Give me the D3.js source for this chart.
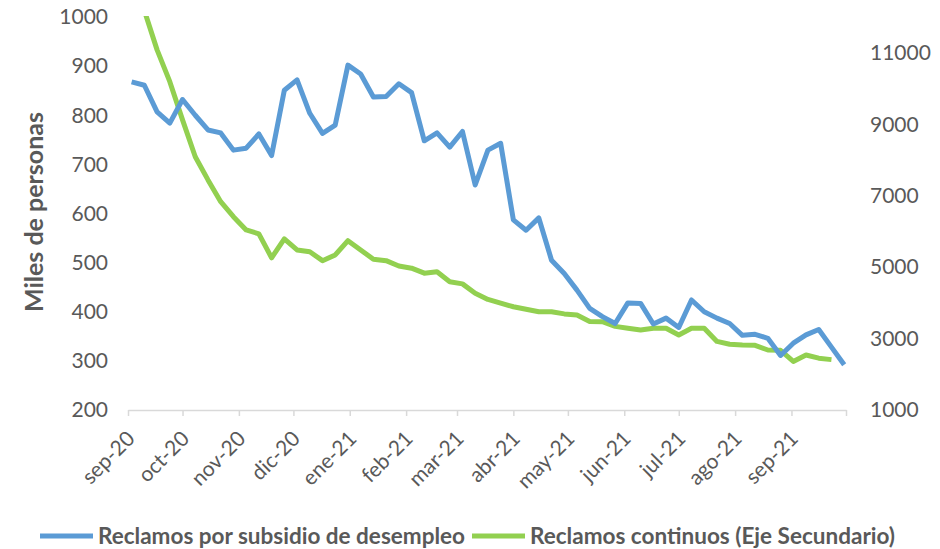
<!DOCTYPE html>
<html>
<head>
<meta charset="utf-8">
<script src="https://cdn.jsdelivr.net/npm/d3@7"></script>
<style>
  html, body { margin: 0; padding: 0; background: #fff; }
  svg { display: block; font-family: Lato, "Open Sans", sans-serif; }
</style>
</head>
<body>
<div id="app"></div>
<script>
// weekly dates (Thursdays)
const dates = [
  "2020-09-03", "2020-09-10", "2020-09-17", "2020-09-24",
  "2020-10-01", "2020-10-08", "2020-10-15", "2020-10-22", "2020-10-29",
  "2020-11-05", "2020-11-12", "2020-11-19", "2020-11-26",
  "2020-12-03", "2020-12-10", "2020-12-17", "2020-12-24", "2020-12-31",
  "2021-01-07", "2021-01-14", "2021-01-21", "2021-01-28",
  "2021-02-04", "2021-02-11", "2021-02-18", "2021-02-25",
  "2021-03-04", "2021-03-11", "2021-03-18", "2021-03-25",
  "2021-04-01", "2021-04-08", "2021-04-15", "2021-04-22", "2021-04-29",
  "2021-05-06", "2021-05-13", "2021-05-20", "2021-05-27",
  "2021-06-03", "2021-06-10", "2021-06-17", "2021-06-24",
  "2021-07-01", "2021-07-08", "2021-07-15", "2021-07-22", "2021-07-29",
  "2021-08-05", "2021-08-12", "2021-08-19", "2021-08-26",
  "2021-09-02", "2021-09-09", "2021-09-16", "2021-09-23", "2021-09-30"
];

// Reclamos por subsidio de desempleo (miles, eje principal)
const initialClaims = [
  868, 861, 807, 784,
  832, 800, 770, 764, 729,
  733, 762, 718, 851,
  872, 804, 763, 780, 902,
  884, 837, 838, 864,
  846, 748, 764, 735,
  767, 658, 729, 743,
  587, 566, 591, 505, 478,
  444, 407, 390, 376,
  418, 417, 375, 387,
  368, 424, 400, 387, 376,
  352, 354, 346, 311,
  336, 353, 364, 328, 292
];

// Reclamos continuos (miles, eje secundario)
const continuingClaims = [
  13000, 12180, 11080, 10190,
  9120, 8090, 7440, 6830, 6410,
  6040, 5930, 5260, 5790,
  5480, 5430, 5180, 5340, 5740,
  5480, 5220, 5180, 5030,
  4970, 4830, 4870, 4590,
  4530, 4270, 4095, 3990,
  3890, 3820, 3750, 3750, 3690,
  3660, 3480, 3470, 3340,
  3290, 3240, 3290, 3290,
  3100, 3290, 3290, 2920, 2840,
  2820, 2810, 2680, 2670,
  2360, 2540, 2450, 2410, null
];

const monthLabels = [
  "sep-20", "oct-20", "nov-20", "dic-20", "ene-21", "feb-21", "mar-21",
  "abr-21", "may-21", "jun-21", "jul-21", "ago-21", "sep-21"
];
const leftTicks = [200, 300, 400, 500, 600, 700, 800, 900, 1000];
const rightTicks = [1000, 3000, 5000, 7000, 9000, 11000];
const seriesNames = ["Reclamos por subsidio de desempleo", "Reclamos continuos (Eje Secundario)"];

const width = 940;
const height = 549;
const plot = { left: 128, right: 846, top: 17, bottom: 410 };
const blue = "#5B9BD5";
const green = "#92D050";
const textColor = "#595959";

const parse = d3.timeParse("%Y-%m-%d");
const xDates = dates.map(parse);

const x = d3.scaleTime()
  .domain([new Date(2020, 8, 1), new Date(2021, 9, 1)])
  .range([plot.left, plot.right]);

const yLeft = d3.scaleLinear().domain([200, 1000]).range([plot.bottom, plot.top]);
const yRight = d3.scaleLinear().domain([1000, 12000]).range([plot.bottom, plot.top]);

const svg = d3.select("#app")
  .append("svg")
  .attr("width", width)
  .attr("height", height)
  .attr("viewBox", `0 0 ${width} ${height}`);

svg.append("defs")
  .append("clipPath")
  .attr("id", "plot-clip")
  .append("rect")
  .attr("x", 0)
  .attr("y", plot.top - 1)
  .attr("width", width)
  .attr("height", plot.bottom - plot.top + 20);

// x axis
const monthTicks = d3.timeMonth.range(new Date(2020, 8, 1), new Date(2021, 9, 2));
const xAxis = svg.append("g")
  .attr("transform", `translate(0, ${plot.bottom})`)
  .call(d3.axisBottom(x).tickValues(monthTicks).tickSize(6).tickSizeOuter(0).tickFormat(""));
xAxis.select(".domain").attr("stroke", "#D9D9D9").attr("stroke-width", 1.5);
xAxis.selectAll(".tick line").attr("stroke", "#D9D9D9").attr("stroke-width", 1.5);

svg.append("g")
  .selectAll("text")
  .data(monthLabels)
  .join("text")
  .attr("transform", (d, i) => `translate(${x(monthTicks[i]) + 8}, ${plot.bottom + 30}) rotate(-45)`)
  .attr("text-anchor", "end")
  .style("font-size", "21px")
  .style("fill", textColor)
  .text((d) => d);

// left axis labels
svg.append("g")
  .selectAll("text")
  .data(leftTicks)
  .join("text")
  .attr("x", 108)
  .attr("y", (d) => yLeft(d))
  .attr("dy", "0.35em")
  .attr("text-anchor", "end")
  .style("font-size", "21px")
  .style("fill", textColor)
  .text((d) => d);

// right axis labels
svg.append("g")
  .selectAll("text")
  .data(rightTicks)
  .join("text")
  .attr("x", 870)
  .attr("y", (d) => yRight(d))
  .attr("dy", "0.35em")
  .attr("text-anchor", "start")
  .style("font-size", "21px")
  .style("fill", textColor)
  .text((d) => d);

// y title
svg.append("text")
  .attr("transform", "translate(43, 212) rotate(-90)")
  .attr("text-anchor", "middle")
  .attr("textLength", 200)
  .attr("lengthAdjust", "spacingAndGlyphs")
  .style("font-size", "24px")
  .style("font-weight", "bold")
  .style("fill", textColor)
  .text("Miles de personas");

// lines
const lines = svg.append("g").attr("clip-path", "url(#plot-clip)");

const blueLine = d3.line()
  .x((d, i) => x(xDates[i]))
  .y((d) => yLeft(d));

const greenLine = d3.line()
  .defined((d) => d !== null)
  .x((d, i) => x(xDates[i]))
  .y((d) => yRight(d));

lines.append("path")
  .datum(continuingClaims)
  .attr("fill", "none")
  .attr("stroke", green)
  .attr("stroke-width", 5)
  .attr("stroke-linejoin", "round")
  .attr("d", greenLine);

lines.append("path")
  .datum(initialClaims)
  .attr("fill", "none")
  .attr("stroke", blue)
  .attr("stroke-width", 5)
  .attr("stroke-linejoin", "round")
  .attr("d", blueLine);

// legend
const legendItems = [
  { label: seriesNames[0], color: blue, x: 40, w: 367 },
  { label: seriesNames[1], color: green, x: 472, w: 365 }
];

legendItems.forEach((item) => {
  const row = svg.append("g").attr("transform", `translate(${item.x}, 536)`);
  row.append("line")
    .attr("x1", 0)
    .attr("x2", 53)
    .attr("stroke", item.color)
    .attr("stroke-width", 5);
  row.append("text")
    .attr("x", 58)
    .attr("dy", "0.35em")
    .attr("textLength", item.w)
    .attr("lengthAdjust", "spacingAndGlyphs")
    .style("font-size", "22px")
    .style("font-weight", "bold")
    .style("fill", textColor)
    .text(item.label);
});
</script>
</body>
</html>
